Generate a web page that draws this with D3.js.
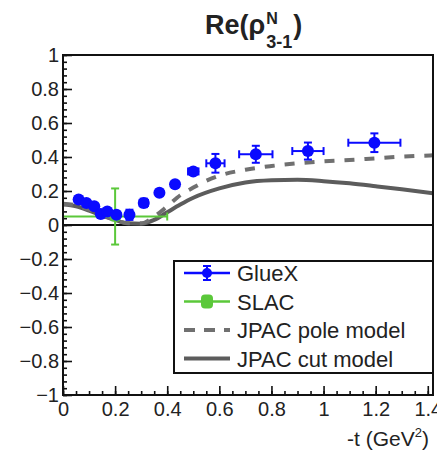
<!DOCTYPE html>
<html>
<head>
<meta charset="utf-8">
<script src="https://cdn.jsdelivr.net/npm/d3@7"></script>
<style>
  body { margin: 0; background: #fff; }
  text { font-family: "Liberation Sans", Arial, sans-serif; fill: #222; }
</style>
</head>
<body>
<script>
// GlueX measurement: -t, value, errors
var gluexT    = [0.06, 0.09, 0.12, 0.145, 0.17, 0.205, 0.255, 0.31, 0.37, 0.43, 0.50, 0.585, 0.74, 0.94, 1.195];
var gluexVal  = [0.15, 0.13, 0.11, 0.065, 0.08, 0.06, 0.06, 0.13, 0.19, 0.24, 0.315, 0.363, 0.416, 0.435, 0.484];
var gluexTErr = [0.008, 0.008, 0.008, 0.008, 0.008, 0.01, 0.012, 0.016, 0.012, 0.012, 0.02, 0.035, 0.064, 0.06, 0.10];
var gluexErr  = [0.012, 0.012, 0.012, 0.015, 0.015, 0.015, 0.03, 0.025, 0.015, 0.015, 0.02, 0.055, 0.05, 0.05, 0.055];

// SLAC point
var slacT = [0.2], slacVal = [0.05], slacTErr = [0.2], slacErr = [0.165];

// JPAC model curves
var poleT   = [0, 0.05, 0.1, 0.15, 0.2, 0.25, 0.3, 0.35, 0.4, 0.45, 0.5, 0.55, 0.6, 0.7, 0.8, 0.9, 1.0, 1.1, 1.2, 1.3, 1.42];
var poleVal = [0.125, 0.115, 0.09, 0.06, 0.03, 0.01, 0.01, 0.05, 0.11, 0.175, 0.22, 0.26, 0.29, 0.325, 0.347, 0.363, 0.374, 0.382, 0.392, 0.402, 0.41];
var cutT    = [0, 0.05, 0.1, 0.15, 0.2, 0.25, 0.3, 0.35, 0.4, 0.45, 0.5, 0.6, 0.7, 0.8, 0.9, 1.0, 1.1, 1.2, 1.3, 1.42];
var cutVal  = [0.12, 0.11, 0.085, 0.055, 0.03, 0.01, 0.008, 0.03, 0.075, 0.12, 0.16, 0.215, 0.25, 0.263, 0.266, 0.258, 0.245, 0.228, 0.21, 0.186];

var legendNames = ["GlueX", "SLAC", "JPAC pole model", "JPAC cut model"];

var blue = "#0a0aff", green = "#5bc83a", greyPole = "#707070", greyCut = "#5c5c5c";

// frame edges in pixels
var fx0 = 63, fx1 = 433, fy0 = 55, fy1 = 395;

var svg = d3.select("body").append("svg")
    .attr("width", 437)
    .attr("height", 454);

var x = d3.scaleLinear().domain([0, 1.42]).range([fx0, fx1]);
var y = d3.scaleLinear().domain([-1, 1]).range([fy1, fy0]);

svg.append("clipPath").attr("id", "plot")
  .append("rect")
    .attr("x", fx0).attr("y", fy0)
    .attr("width", fx1 - fx0).attr("height", fy1 - fy0);

// axes: major ticks with labels, minor ticks without
var xMajor = d3.range(0, 8).map(function(i) { return Math.round(i * 2) / 10; });
var xMinor = d3.range(0, 29).map(function(i) { return i * 0.05; });
var yMajor = d3.range(-5, 6).map(function(i) { return Math.round(i * 2) / 10; });
var yMinor = d3.range(-25, 26).map(function(i) { return i * 0.04; });

svg.append("g")
    .attr("transform", "translate(0," + fy1 + ")")
    .call(d3.axisBottom(x).tickValues(xMinor).tickSizeInner(-4).tickSizeOuter(0).tickFormat(""));
svg.append("g")
    .attr("transform", "translate(0," + fy1 + ")")
    .call(d3.axisBottom(x).tickValues(xMajor).tickSizeInner(-9).tickSizeOuter(0)
      .tickPadding(7).tickFormat(d3.format("~g")));

svg.append("g")
    .attr("transform", "translate(" + fx0 + ",0)")
    .call(d3.axisLeft(y).tickValues(yMinor).tickSizeInner(-4).tickSizeOuter(0).tickFormat(""));
svg.append("g")
    .attr("transform", "translate(" + fx0 + ",0)")
    .call(d3.axisLeft(y).tickValues(yMajor).tickSizeInner(-9).tickSizeOuter(0)
      .tickPadding(4).tickFormat(d3.format("~g")));

svg.selectAll(".domain").remove();
svg.selectAll(".tick line").attr("stroke", "#111").attr("stroke-width", 1.6);
svg.selectAll(".tick text").style("font-size", "20px").attr("fill", "#222");

// zero line
svg.append("line")
    .attr("x1", fx0).attr("x2", fx1)
    .attr("y1", y(0)).attr("y2", y(0))
    .attr("stroke", "#111").attr("stroke-width", 2);

var plot = svg.append("g").attr("clip-path", "url(#plot)");

var line = d3.line()
    .x(function(d) { return x(d[0]); })
    .y(function(d) { return y(d[1]); })
    .curve(d3.curveMonotoneX);

plot.append("path")
    .datum(d3.zip(cutT, cutVal))
    .attr("d", line)
    .attr("fill", "none")
    .attr("stroke", greyCut)
    .attr("stroke-width", 4);

plot.append("path")
    .datum(d3.zip(poleT, poleVal))
    .attr("d", line)
    .attr("fill", "none")
    .attr("stroke", greyPole)
    .attr("stroke-width", 4)
    .attr("stroke-dasharray", "10,10");

// error bars with end caps
function drawErrors(g, tv, vv, te, ve, color, cap) {
  var pts = d3.range(tv.length).map(function(i) {
    return {t: tv[i], v: vv[i], te: te[i], ve: ve[i]};
  });
  var e = g.selectAll(null).data(pts).enter().append("g")
      .attr("stroke", color).attr("stroke-width", 2);
  e.append("line")
      .attr("x1", function(d) { return x(d.t - d.te); })
      .attr("x2", function(d) { return x(d.t + d.te); })
      .attr("y1", function(d) { return y(d.v); })
      .attr("y2", function(d) { return y(d.v); });
  e.append("line")
      .attr("x1", function(d) { return x(d.t); })
      .attr("x2", function(d) { return x(d.t); })
      .attr("y1", function(d) { return y(d.v - d.ve); })
      .attr("y2", function(d) { return y(d.v + d.ve); });
  [-1, 1].forEach(function(s) {
    e.append("line")
        .attr("x1", function(d) { return x(d.t + s * d.te); })
        .attr("x2", function(d) { return x(d.t + s * d.te); })
        .attr("y1", function(d) { return y(d.v) - cap; })
        .attr("y2", function(d) { return y(d.v) + cap; });
    e.append("line")
        .attr("x1", function(d) { return x(d.t) - cap; })
        .attr("x2", function(d) { return x(d.t) + cap; })
        .attr("y1", function(d) { return y(d.v + s * d.ve); })
        .attr("y2", function(d) { return y(d.v + s * d.ve); });
  });
  return pts;
}

var slacPts = drawErrors(plot, slacT, slacVal, slacTErr, slacErr, green, 4);
plot.selectAll(".slac").data(slacPts).enter().append("rect")
    .attr("x", function(d) { return x(d.t) - 5; })
    .attr("y", function(d) { return y(d.v) - 5; })
    .attr("width", 10).attr("height", 10)
    .attr("rx", 2)
    .attr("fill", green);

var gluexPts = drawErrors(plot, gluexT, gluexVal, gluexTErr, gluexErr, blue, 4);
plot.selectAll(".gluex").data(gluexPts).enter().append("circle")
    .attr("cx", function(d) { return x(d.t); })
    .attr("cy", function(d) { return y(d.v); })
    .attr("r", 6)
    .attr("fill", blue);

// frame
svg.append("rect")
    .attr("x", fx0).attr("y", fy0)
    .attr("width", fx1 - fx0).attr("height", fy1 - fy0)
    .attr("fill", "none")
    .attr("stroke", "#111")
    .attr("stroke-width", 2);

// legend
var leg = svg.append("g");
leg.append("rect")
    .attr("x", 174).attr("y", 261)
    .attr("width", 259).attr("height", 112)
    .attr("fill", "#fff")
    .attr("stroke", "#111")
    .attr("stroke-width", 2);

legendNames.forEach(function(name, i) {
  var ly = 273 + i * 28.5;
  var row = leg.append("g");
  if (i === 0) {
    row.append("line").attr("x1", 184).attr("x2", 230).attr("y1", ly).attr("y2", ly)
        .attr("stroke", blue).attr("stroke-width", 2.5);
    row.append("line").attr("x1", 207).attr("x2", 207).attr("y1", ly - 7).attr("y2", ly + 7)
        .attr("stroke", blue).attr("stroke-width", 2);
    row.append("line").attr("x1", 203).attr("x2", 211).attr("y1", ly - 7).attr("y2", ly - 7)
        .attr("stroke", blue).attr("stroke-width", 2);
    row.append("line").attr("x1", 203).attr("x2", 211).attr("y1", ly + 7).attr("y2", ly + 7)
        .attr("stroke", blue).attr("stroke-width", 2);
    row.append("circle").attr("cx", 207).attr("cy", ly).attr("r", 5).attr("fill", blue);
  } else if (i === 1) {
    row.append("line").attr("x1", 184).attr("x2", 230).attr("y1", ly).attr("y2", ly)
        .attr("stroke", green).attr("stroke-width", 2.5);
    row.append("rect").attr("x", 201).attr("y", ly - 7).attr("width", 12).attr("height", 14)
        .attr("rx", 4).attr("fill", green);
  } else {
    row.append("line").attr("x1", 184).attr("x2", 230).attr("y1", ly).attr("y2", ly)
        .attr("stroke", i === 2 ? greyPole : greyCut).attr("stroke-width", 4)
        .attr("stroke-dasharray", i === 2 ? "11,9" : null);
  }
  row.append("text")
      .attr("x", 237).attr("y", ly + 8)
      .style("font-size", "22px")
      .text(name);
});

// title
var title = svg.append("text")
    .attr("x", 205).attr("y", 34)
    .style("font-size", "27px")
    .style("font-weight", "bold");
title.append("tspan").text("Re(\u03c1");
var w0 = title.node().getComputedTextLength();
svg.append("text").attr("x", 205 + w0 + 1).attr("y", 24)
    .style("font-size", "16px").style("font-weight", "bold").text("N");
var sub = svg.append("text").attr("x", 205 + w0 + 1).attr("y", 48)
    .style("font-size", "18px").style("font-weight", "bold").text("3-1");
var w1 = sub.node().getComputedTextLength();
svg.append("text").attr("x", 205 + w0 + w1 + 2).attr("y", 34)
    .style("font-size", "27px").style("font-weight", "bold").text(")");

// x axis title
var xt = svg.append("text")
    .attr("x", 429).attr("y", 446)
    .attr("text-anchor", "end")
    .style("font-size", "21px");
xt.append("tspan").text("-t (GeV");
xt.append("tspan").attr("dy", -9).style("font-size", "13px").text("2");
xt.append("tspan").attr("dy", 9).text(")");
</script>
</body>
</html>
